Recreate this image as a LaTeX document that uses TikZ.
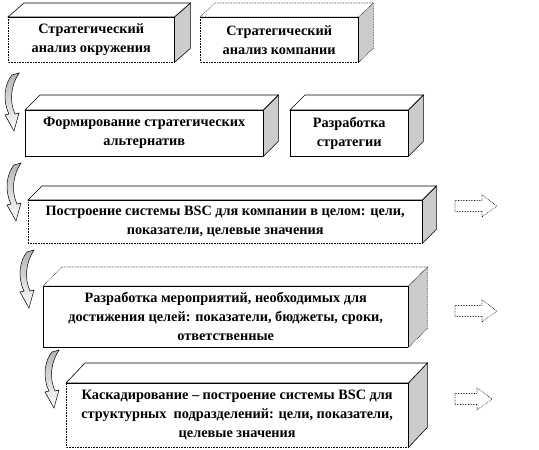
\documentclass[tikz,border=0pt]{standalone}
\usepackage{fontspec}
\setmainfont{Liberation Serif}
\usetikzlibrary{calc}
\tikzset{
  front/.style={draw=none,fill=white,anchor=north west,align=center,inner sep=0pt,
     font=\bfseries\fontsize{14.3}{19}\selectfont},
  sidefill/.style={fill=black!20},
  edge/.style={draw=black,line width=0.6pt},
  dotedge/.style={draw=black,line width=0.6pt,densely dotted},
  rarrow/.style={draw=black,densely dotted,line width=0.6pt,fill=white},
  curvarrow/.style={draw=black,line width=0.5pt,top color=black!30,bottom color=white},
}
% #1 name, #2 depth offset, #3 left/bottom style, #4 back style
\newcommand\cubefaces[4]{%
  \filldraw[sidefill,#4] (#1.north east) -- ++(#2) -- ($(#1.south east)+(#2)$) -- (#1.south east) -- cycle;
  \filldraw[fill=white,#4] (#1.north west) -- ++(#2) -- ($(#1.north east)+(#2)$) -- (#1.north east) -- cycle;
  \draw[edge] (#1.north west) -- (#1.north east) -- (#1.south east);
  \draw[#3] (#1.south east) -- (#1.south west) -- (#1.north west);
}
\newcommand\curvedarrow[1]{%
  \path[curvarrow,shift={(#1)}] (9,2) .. controls (2,10) and (-1,27) .. (6,41)
     -- (2,42) -- (11,58) -- (16,40) -- (12,41)
     .. controls (6,28) and (8,12) .. (16,0) -- cycle;
}
% right block arrow, #1 = left-centre point, #2 = length
\newcommand\blockarrow[2]{%
  \path[rarrow,shift={(#1)}] (0,-5.5) -- ({#2-15},-5.5) -- ({#2-15},-11) -- (#2,0)
     -- ({#2-15},11) -- ({#2-15},5.5) -- (0,5.5) -- cycle;
}
\begin{document}
\begin{tikzpicture}[x=1pt,y=-1pt]
\useasboundingbox (0,0) rectangle (539,450);
% row 1
\node[front,minimum width=166pt,minimum height=45pt] (b1) at (8,17) {Стратегический\\анализ окружения};
\cubefaces{b1}{16,-14}{dotedge}{edge}
\node[front,minimum width=158pt,minimum height=45pt] (b2) at (200,17) {Стратегический\\анализ компании};
\cubefaces{b2}{15,-14}{dotedge}{dotedge}
% row 2
\curvedarrow{3,73}
\node[front,minimum width=238pt,minimum height=46pt] (b3) at (25,110) {Формирование стратегических\\альтернатив};
\cubefaces{b3}{15,-15}{edge}{edge}
\node[front,minimum width=118pt,minimum height=46pt] (b4) at (290,110) {Разработка\\стратегии};
\cubefaces{b4}{15,-15}{edge}{edge}
% row 3
\curvedarrow{5,163}
\node[front,minimum width=394pt,minimum height=43pt] (b5) at (28,200) {Построение системы BSC для компании в целом: цели,\\показатели, целевые значения};
\cubefaces{b5}{14,-14}{dotedge}{edge}
\coordinate (a1) at (455,206);
\blockarrow{a1}{42}
% row 4
\curvedarrow{18,250}
\node[front,minimum width=365pt,minimum height=61pt] (b6) at (43,286) {Разработка мероприятий, необходимых для\\достижения целей: показатели, бюджеты, сроки,\\ответственные};
\cubefaces{b6}{19,-19}{edge}{dotedge}
\coordinate (a2) at (455,311);
\blockarrow{a2}{42}
% row 5
\curvedarrow{43,350}
\node[front,minimum width=342pt,minimum height=64pt] (b7) at (66,383) {Каскадирование – построение системы BSC для\\структурных\ \ подразделений: цели, показатели,\\целевые значения};
\cubefaces{b7}{19,-20}{dotedge}{edge}
\coordinate (a3) at (455,399);
\blockarrow{a3}{37}
\end{tikzpicture}
\end{document}
